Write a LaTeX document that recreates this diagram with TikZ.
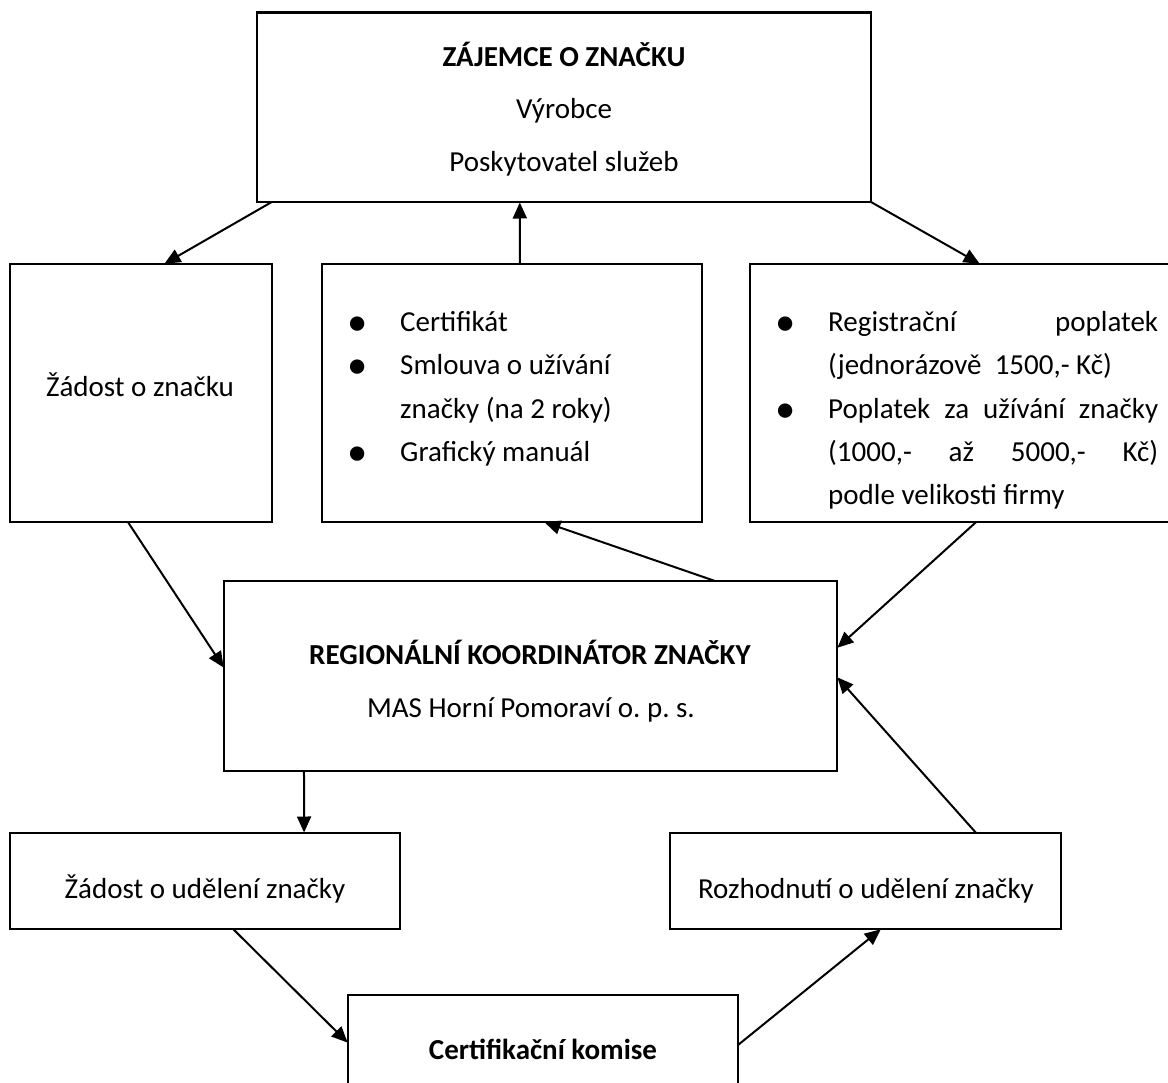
\documentclass[tikz,border=0pt]{standalone}
\usepackage{fontspec}
\setmainfont{Carlito}
\frenchspacing
\usetikzlibrary{arrows.meta,calc}
\begin{document}
\begin{tikzpicture}[x=1pt,y=-1pt,
  box/.style={draw,line width=2.6pt,inner sep=0pt,outer sep=0pt},
  txt/.style={inner sep=0pt,anchor=base,font=\fontsize{29}{35}\selectfont},
  ltxt/.style={txt,anchor=base west},
  bul/.style={txt},
  arr/.style={line width=2pt,-{Triangle[length=16pt,width=14pt]},shorten >=0.5pt}]
\useasboundingbox (0,0) rectangle (1168,1083);
\clip (0,0) rectangle (1168,1083);
% boxes
\node[box,minimum width=614pt,minimum height=189.5pt] (top) at (564,107.25) {};
\node[box,minimum width=262pt,minimum height=258pt] (left) at (141,393) {};
\node[box,minimum width=380pt,minimum height=258pt] (mid) at (512,393) {};
\node[box,minimum width=440pt,minimum height=258pt] (right) at (970,393) {};
\node[box,minimum width=613pt,minimum height=190pt] (reg) at (530.5,676) {};
\node[box,minimum width=390pt,minimum height=96pt] (zad) at (205,881) {};
\node[box,minimum width=391pt,minimum height=96pt] (roz) at (865.5,881) {};
\node[box,minimum width=390pt,minimum height=115pt] (cert) at (543,1052.5) {};
% texts
\node[txt] (t1) at (564,67) {\textbf{ZÁJEMCE O ZNAČKU}};
\node[txt] (t2) at (564,119) {Výrobce};
\node[txt] (t3) at (564,172) {Poskytovatel služeb};
\node[txt] (l1) at (140,397) {Žádost o značku};
\node[bul] (mb1) at (358,336) {\scalebox{1.4}{•}};
\node[bul] (mb2) at (358,379) {\scalebox{1.4}{•}};
\node[bul] (mb3) at (358,465) {\scalebox{1.4}{•}};
\node[ltxt] (m1) at (400,332) {Certifikát};
\node[ltxt] (m2) at (400,375) {Smlouva o užívání};
\node[ltxt] (m3) at (400,418) {značky (na 2 roky)};
\node[ltxt] (m4) at (400,461) {Grafický manuál};
\node[bul] (rb1) at (786,336) {\scalebox{1.4}{•}};
\node[bul] (rb2) at (786,422) {\scalebox{1.4}{•}};
\node[ltxt] (r1) at (828,332) {\makebox[330pt][s]{Registrační\hfill poplatek}};
\node[ltxt] (r2) at (828,375) {(jednorázově\ \ 1500,- Kč)};
\node[ltxt] (r3) at (828,418) {\makebox[330pt][s]{Poplatek za užívání značky}};
\node[ltxt] (r4) at (828,461) {\makebox[330pt][s]{(1000,-\hfill až\hfill 5000,-\hfill Kč)}};
\node[ltxt] (r5) at (828,504) {podle velikosti firmy};
\node[txt] (g1) at (530,664) {\textbf{REGIONÁLNÍ KOORDINÁTOR ZNAČKY}};
\node[txt] (g2) at (531,717) {MAS Horní Pomoraví o. p. s.};
\node[txt] (z1) at (205,898) {Žádost o udělení značky};
\node[txt] (o1) at (866,898) {Rozhodnutí o udělení značky};
\node[txt] (c1) at (543,1059) {\textbf{Certifikační komise}};
% arrows
\draw[arr] ($(top.south west)!0.024!(top.south east)$) -- ($(left.north west)!0.588!(left.north east)$);
\draw[arr] ($(mid.north west)!0.521!(mid.north east)$) -- ($(top.south west)!0.428!(top.south east)$);
\draw[arr] (top.south east) -- ($(right.north west)!0.523!(right.north east)$);
\draw[arr] ($(left.south west)!0.45!(left.south east)$) -- ($(reg.north west)!0.458!(reg.south west)$);
\draw[arr] ($(reg.north west)!0.801!(reg.north east)$) -- ($(mid.south west)!0.584!(mid.south east)$);
\draw[arr] ($(right.south west)!0.514!(right.south east)$) -- ($(reg.north east)!0.353!(reg.south east)$);
\draw[arr] ($(roz.north west)!0.783!(roz.north east)$) -- ($(reg.north east)!0.505!(reg.south east)$);
\draw[arr] ($(reg.south west)!0.1305!(reg.south east)$) -- ($(zad.north west)!0.754!(zad.north east)$);
\draw[arr] ($(zad.south west)!0.572!(zad.south east)$) -- ($(cert.north west)!0.417!(cert.south west)$);
\draw[arr] ($(cert.north east)!0.435!(cert.south east)$) -- ($(roz.south west)!0.54!(roz.south east)$);
\end{tikzpicture}
\end{document}
